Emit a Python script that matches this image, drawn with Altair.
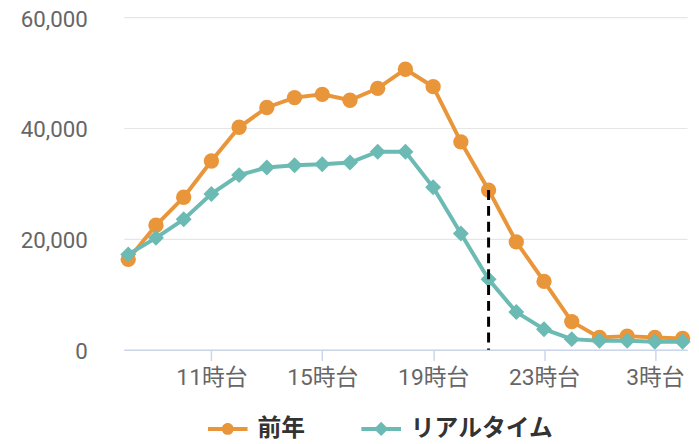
import altair as alt
import pandas as pd

HOURS = ["8時台", "9時台", "10時台", "11時台", "12時台", "13時台", "14時台",
         "15時台", "16時台", "17時台", "18時台", "19時台", "20時台", "21時台",
         "22時台", "23時台", "0時台", "1時台", "2時台", "3時台", "4時台"]
PREV = [16300, 22450, 27500, 34050, 40130, 43700, 45490, 46080, 45000, 47150,
        50600, 47450, 37500, 28800, 19470, 12320, 5070, 2200, 2450, 2200, 2030]
REAL = [17200, 20180, 23520, 28110, 31500, 32860, 33290, 33470, 33760, 35720,
        35720, 29300, 20960, 12700, 6790, 3700, 1910, 1610, 1610, 1430, 1430]
SERIES = ["前年", "リアルタイム"]
COLORS = ["#E9963B", "#6BBAB3"]
X_LABELS = ["11時台", "15時台", "19時台", "23時台", "3時台"]
Y_TICKS = [0, 20000, 40000, 60000]
MARK_HOUR = "21時台"

# legend symbols: line with circle / line with diamond
PATH_CIRCLE = ("M-1,-0.1 L-0.27,-0.1 L-0.27,0.1 L-1,0.1 Z "
               "M0.27,-0.1 L1,-0.1 L1,0.1 L0.27,0.1 Z "
               "M-0.3,0 A0.3,0.3 0 1,1 0.3,0 A0.3,0.3 0 1,1 -0.3,0 Z")
PATH_DIAMOND = ("M-1,-0.1 L-0.2,-0.1 L-0.2,0.1 L-1,0.1 Z "
                "M0.2,-0.1 L1,-0.1 L1,0.1 L0.2,0.1 Z "
                "M0,-0.36 L0.36,0 L0,0.36 L-0.36,0 Z")

df_prev = pd.DataFrame({"hour": HOURS, "value": PREV, "series": SERIES[0]})
df_real = pd.DataFrame({"hour": HOURS, "value": REAL, "series": SERIES[1]})
df_mark = pd.DataFrame({"hour": [MARK_HOUR],
                        "value": [PREV[HOURS.index(MARK_HOUR)]],
                        "base": [0]})

FONT = "Roboto, Noto Sans CJK JP, sans-serif"

x = alt.X("hour:N", sort=HOURS,
          scale=alt.Scale(type="point", padding=0.16),
          axis=alt.Axis(values=X_LABELS, title=None, labelAngle=0,
                        labelFont=FONT, labelFontSize=23, labelColor="#666666",
                        domainColor="#ccd6eb", domainWidth=1.5,
                        tickColor="#ccd6eb", tickSize=11, tickWidth=1.5,
                        labelPadding=6, grid=False))
y = alt.Y("value:Q", scale=alt.Scale(domain=[0, 60000], nice=False),
          axis=alt.Axis(values=Y_TICKS, title=None,
                        labelExpr="format(datum.value, ',')",
                        labelFont=FONT, labelFontSize=22.5, labelColor="#666666",
                        labelOffset=2,
                        domain=False, ticks=False, tickSize=0, labelPadding=37,
                        gridColor="#e6e6e6", gridWidth=1.2))

line_prev = alt.Chart(df_prev).mark_line(color=COLORS[0], strokeWidth=4).encode(x=x, y=y)
pts_prev = alt.Chart(df_prev).mark_point(shape="circle", filled=True, opacity=1,
                                         color=COLORS[0], size=240).encode(x=x, y=y)
line_real = alt.Chart(df_real).mark_line(color=COLORS[1], strokeWidth=4).encode(x=x, y=y)
pts_real = alt.Chart(df_real).mark_point(shape="diamond", filled=True, opacity=1,
                                         color=COLORS[1], size=260).encode(x=x, y=y)

rule = alt.Chart(df_mark).mark_rule(color="#000000", strokeWidth=3,
                                    strokeDash=[10, 6]).encode(
    x=x, y=y, y2="base:Q")

leg = alt.Legend(orient="none", legendX=85, legendY=396, direction="horizontal",
                 title=None, labelFont="Noto Sans CJK JP", labelFontSize=24,
                 labelFontWeight="bold", labelColor="#333333", labelLimit=400,
                 symbolSize=1600, symbolStrokeWidth=0, labelOffset=10,
                 columnPadding=57, padding=0)

legend_layer = alt.Chart(df_prev).transform_filter(alt.datum.value < 0).mark_point(
    filled=True, opacity=1, size=1600).encode(
    x=x, y=y,
    color=alt.Color("series:N", scale=alt.Scale(domain=SERIES, range=COLORS), legend=leg),
    shape=alt.Shape("series:N", scale=alt.Scale(domain=SERIES,
                                                range=[PATH_CIRCLE, PATH_DIAMOND]),
                    legend=leg))

chart = alt.layer(line_prev, pts_prev, line_real, pts_real, rule, legend_layer).properties(
    width=569, height=336,
    autosize=alt.AutoSizeParams(type="none"),
    padding={"left": 117, "top": 7, "right": 4, "bottom": 92},
    background="white",
).configure_view(strokeWidth=0)

chart.save("out.html", embed_options={"renderer": "svg", "actions": False})
